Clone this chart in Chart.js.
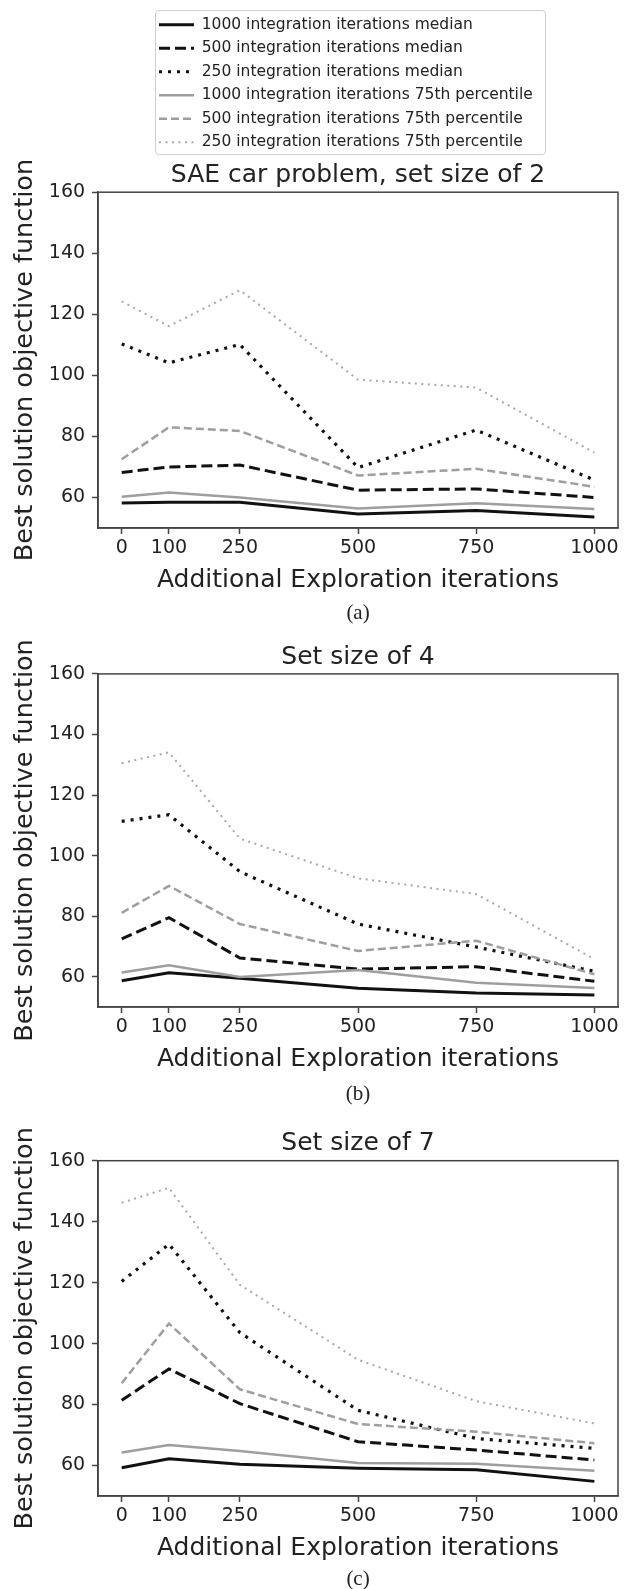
<!DOCTYPE html>
<html>
<head>
<meta charset="utf-8">
<script src="https://cdn.jsdelivr.net/npm/chart.js@4.4.1/dist/chart.umd.min.js"></script>
<style>
  html, body { margin: 0; padding: 0; background: #fff; overflow: hidden; }
  body { width: 624px; height: 1589px; position: relative; }
  .box { position: absolute; left: 155px; top: 10px; width: 391px; height: 145px;
         border: 1px solid #d0d0d0; border-radius: 4px; box-sizing: border-box; }
  canvas { position: absolute; left: 0; }
</style>
</head>
<body>
<div class="box"></div>
<canvas id="legendChart" width="395" height="320" style="left:151px; top:9px"></canvas>
<canvas id="chartA" width="624" height="471" style="top:155px"></canvas>
<canvas id="chartB" width="624" height="481" style="top:626px"></canvas>
<canvas id="chartC" width="624" height="485" style="top:1107px"></canvas>
<script>
// x positions (additional exploration iterations)
const iterations = [0, 100, 250, 500, 750, 1000];
const xTicks = [0, 100, 250, 500, 750, 1000];
const yTicks = [60, 80, 100, 120, 140, 160];

const seriesLabels = [
  '1000 integration iterations median',
  '500 integration iterations median',
  '250 integration iterations median',
  '1000 integration iterations 75th percentile',
  '500 integration iterations 75th percentile',
  '250 integration iterations 75th percentile'
];

// (a) set size of 2
const medA1000 = [58.2, 58.4, 58.4, 54.6, 55.7, 53.6];
const medA500 = [68.2, 70.0, 70.6, 62.4, 62.8, 60.0];
const medA250 = [110.3, 104.1, 110.1, 69.8, 82.1, 65.7];
const p75A1000 = [60.2, 61.6, 60.0, 56.4, 58.1, 56.2];
const p75A500 = [72.5, 83.0, 81.8, 67.2, 69.4, 63.5];
const p75A250 = [124.2, 116.1, 127.9, 98.6, 96.0, 74.7];

// (b) set size of 4
const medB1000 = [58.7, 61.3, 59.5, 56.2, 54.6, 54.0];
const medB500 = [72.5, 79.5, 66.2, 62.5, 63.3, 58.5];
const medB250 = [111.3, 113.5, 94.7, 77.4, 69.8, 61.8];
const p75B1000 = [61.4, 63.8, 59.9, 62.2, 58.0, 56.3];
const p75B500 = [81.1, 90.0, 77.4, 68.5, 71.9, 60.8];
const p75B250 = [130.5, 134.1, 105.6, 92.5, 87.3, 65.8];

// (c) set size of 7
const medC1000 = [59.3, 62.2, 60.4, 59.1, 58.6, 54.8];
const medC500 = [81.4, 91.7, 80.3, 67.8, 65.1, 61.8];
const medC250 = [120.4, 132.6, 103.6, 78.1, 68.9, 65.6];
const p75C1000 = [64.3, 66.7, 64.8, 60.8, 60.6, 58.3];
const p75C500 = [87.0, 106.6, 85.0, 73.6, 71.1, 67.3];
const p75C250 = [146.2, 151.1, 119.3, 94.7, 81.1, 73.8];

// line styles, same order as seriesLabels
const styles = [
  { color: '#111111', width: 3, dash: [] },
  { color: '#111111', width: 3, dash: [11, 5] },
  { color: '#111111', width: 3.2, dash: [3, 6] },
  { color: '#9e9e9e', width: 2.5, dash: [] },
  { color: '#9e9e9e', width: 2.5, dash: [8, 4] },
  { color: '#a8a8a8', width: 2, dash: [2, 4.5] }
];

Chart.defaults.font.family = "'DejaVu Sans', sans-serif";
Chart.defaults.color = '#222';

function makeDatasets(seriesList) {
  return seriesList.map((vals, i) => ({
    label: seriesLabels[i],
    data: vals.map((v, j) => ({ x: iterations[j], y: v })),
    borderColor: styles[i].color,
    backgroundColor: styles[i].color,
    borderWidth: styles[i].width,
    borderDash: styles[i].dash,
    pointRadius: 0,
    tension: 0,
    order: seriesList.length - i
  }));
}

// box around the plot area
const framePlugin = {
  id: 'frame',
  afterDatasetsDraw(chart) {
    const { ctx, chartArea } = chart;
    ctx.save();
    ctx.strokeStyle = '#444';
    ctx.lineWidth = 1.5;
    ctx.strokeRect(chartArea.left, chartArea.top, chartArea.right - chartArea.left, chartArea.bottom - chartArea.top);
    ctx.restore();
  }
};

function makeChart(id, title, caption, seriesList, pad) {
  new Chart(document.getElementById(id), {
    type: 'line',
    data: { datasets: makeDatasets(seriesList) },
    plugins: [framePlugin],
    options: {
      responsive: false,
      animation: false,
      events: [],
      layout: { padding: { left: 0, right: 6, top: 0, bottom: 0 } },
      plugins: {
        legend: { display: false },
        tooltip: { enabled: false },
        title: {
          display: true,
          text: title,
          fullSize: false,
          font: { size: 25, weight: 'normal' },
          padding: { top: pad.titleTop, bottom: pad.titleBottom }
        },
        subtitle: {
          display: true,
          text: caption,
          position: 'bottom',
          fullSize: false,
          color: '#222',
          font: { family: "'Liberation Serif', serif", size: 21 },
          padding: { top: pad.capTop, bottom: 0 }
        }
      },
      scales: {
        x: {
          type: 'linear',
          min: -50,
          max: 1050,
          afterBuildTicks: (scale) => { scale.ticks = xTicks.map(v => ({ value: v })); },
          grid: { display: true, drawOnChartArea: false, drawTicks: true, tickLength: 6, tickWidth: 1.5, tickColor: '#444' },
          border: { display: true, color: '#444', width: 1.5 },
          ticks: { autoSkip: false, maxRotation: 0, padding: 3, font: { size: 19 }, callback: v => String(v) },
          title: { display: true, text: 'Additional Exploration iterations', font: { size: 25 }, padding: { top: 3, bottom: 0 } }
        },
        y: {
          min: 50,
          max: 160,
          afterBuildTicks: (scale) => { scale.ticks = yTicks.map(v => ({ value: v })); },
          grid: { display: true, drawOnChartArea: false, drawTicks: true, tickLength: 6, tickWidth: 1.5, tickColor: '#444' },
          border: { display: true, color: '#444', width: 1.5 },
          ticks: { padding: 7, font: { size: 19 }, callback: v => String(v) },
          title: { display: true, text: 'Best solution objective function', font: { size: 25.5 }, padding: { top: 10.5, bottom: 0.7 } }
        }
      }
    }
  });
}

// legend drawn once, above the first panel
new Chart(document.getElementById('legendChart'), {
  type: 'line',
  data: { datasets: makeDatasets([[], [], [], [], [], []]) },
  options: {
    responsive: false,
    animation: false,
    events: [],
    scales: { x: { display: false }, y: { display: false } },
    plugins: {
      tooltip: { enabled: false },
      legend: {
        position: 'top',
        align: 'start',
        labels: {
          usePointStyle: true,
          pointStyleWidth: 35,
          padding: 8,
          color: '#222',
          font: { size: 15.5 },
          generateLabels: () => seriesLabels.map((text, i) => ({
            text: text,
            datasetIndex: i,
            hidden: false,
            pointStyle: 'line',
            strokeStyle: styles[i].color,
            fillStyle: styles[i].color,
            fontColor: '#222',
            lineWidth: styles[i].width,
            lineDash: styles[i].dash
          }))
        }
      }
    }
  }
});

makeChart('chartA', 'SAE car problem, set size of 2', '(a)',
  [medA1000, medA500, medA250, p75A1000, p75A500, p75A250],
  { titleTop: 5.6, titleBottom: 1.6, capTop: 5 });
makeChart('chartB', 'Set size of 4', '(b)',
  [medB1000, medB500, medB250, p75B1000, p75B500, p75B250],
  { titleTop: 16.3, titleBottom: 1.6, capTop: 7 });
makeChart('chartC', 'Set size of 7', '(c)',
  [medC1000, medC500, medC250, p75C1000, p75C500, p75C250],
  { titleTop: 21.3, titleBottom: 2.4, capTop: 3 });
</script>
</body>
</html>
